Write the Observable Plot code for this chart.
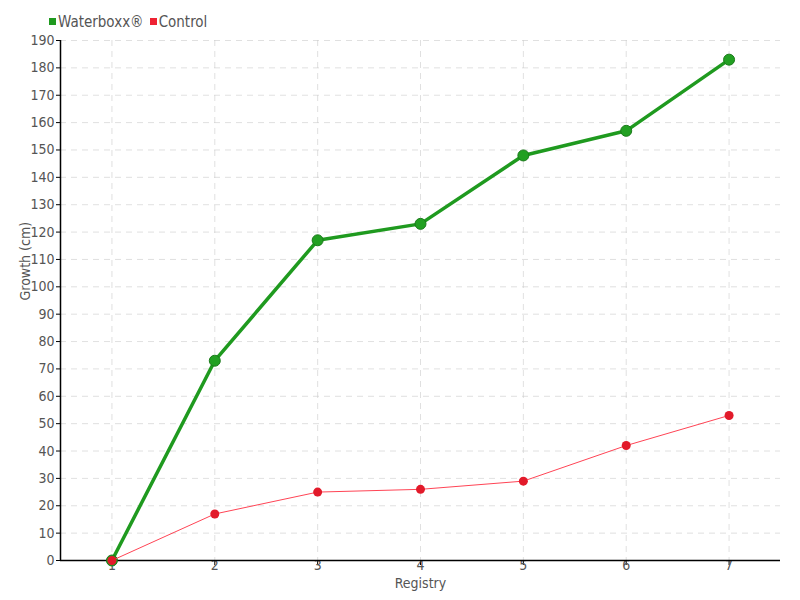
<!DOCTYPE html>
<html><head><meta charset="utf-8">
<script src="https://cdn.jsdelivr.net/npm/d3@7"></script>
<script src="https://cdn.jsdelivr.net/npm/@observablehq/plot@0.6"></script>
<style>
body{margin:0;background:#fff;}
#wrap{position:relative;width:800px;height:600px;font-family:"Liberation Sans Narrow","DejaVu Sans Condensed",sans-serif;}
#legend{position:absolute;left:49px;top:13px;font-size:15px;color:#555;display:flex;gap:6px;align-items:center;z-index:2;}
#legend span.sw{display:inline-block;width:7px;height:7px;margin-right:2px;vertical-align:middle;position:relative;top:-1px;}
</style></head>
<body><div id="wrap"><div id="legend"></div></div>
<script>
const registry = [1, 2, 3, 4, 5, 6, 7];
const waterboxx = [0, 73, 117, 123, 148, 157, 183];
const control = [0, 17, 25, 26, 29, 42, 53];
const seriesNames = ["Waterboxx®", "Control"];
const seriesColors = ["#1f9a1f", "#ee2233"];
const yTicks = d3.range(0, 191, 10);

const wData = registry.map((r, i) => ({x: r, y: waterboxx[i]}));
const cData = registry.map((r, i) => ({x: r, y: control[i]}));
const FONT = '"Liberation Sans Narrow","DejaVu Sans Condensed",sans-serif';

const plot = Plot.plot({
  width: 800, height: 600,
  marginLeft: 60, marginRight: 20, marginTop: 40, marginBottom: 40,
  style: {fontFamily: FONT, fontSize: "14px", color: "#555", background: "transparent"},
  x: {domain: [0.5, 7.5], ticks: registry, tickFormat: d => d, label: null},
  y: {domain: [0, 190], ticks: yTicks, label: null},
  marks: [
    Plot.gridX(registry, {stroke: "#ccc", strokeOpacity: 0.6, strokeDasharray: "6,5"}),
    Plot.gridY(yTicks, {stroke: "#ccc", strokeOpacity: 0.6, strokeDasharray: "6,5"}),
    Plot.axisY({ticks: yTicks, tickSize: 4, tickPadding: 2, stroke: "#000", fill: "#555", fontSize: 14, label: null}),
    Plot.axisX({ticks: registry, tickSize: 5, tickPadding: -5, stroke: "#000", fill: "#555", fontSize: 14, label: null, tickFormat: d => d}),
    Plot.ruleX([0.5], {stroke: "#000", strokeWidth: 1.5}),
    Plot.ruleY([0], {stroke: "#000", strokeWidth: 1.5}),
    Plot.line(wData, {x: "x", y: "y", stroke: seriesColors[0], strokeWidth: 3.5}),
    Plot.dot(wData, {x: "x", y: "y", r: 5.5, fill: "#22a022", stroke: "#1a7a1a", strokeWidth: 1}),
    Plot.line(cData, {x: "x", y: "y", stroke: "#ff4455", strokeWidth: 1}),
    Plot.dot(cData, {x: "x", y: "y", r: 4.5, fill: "#e21a2a", stroke: "none"}),
    Plot.text(["Registry"], {frameAnchor: "bottom", dy: 27, fontSize: 14, fill: "#555"}),
    Plot.text(["Growth (cm)"], {frameAnchor: "left", dx: -35, rotate: -90, fontSize: 14, fill: "#555"})
  ]
});
document.getElementById("wrap").appendChild(plot);
plot.style.position = "absolute"; plot.style.left = "0"; plot.style.top = "0";
const lg = document.getElementById("legend");
seriesNames.forEach((n, i) => {
  const s = document.createElement("span");
  s.innerHTML = `<span class="sw" style="background:${seriesColors[i]}"></span>${n}`;
  lg.appendChild(s);
});
</script></body></html>
